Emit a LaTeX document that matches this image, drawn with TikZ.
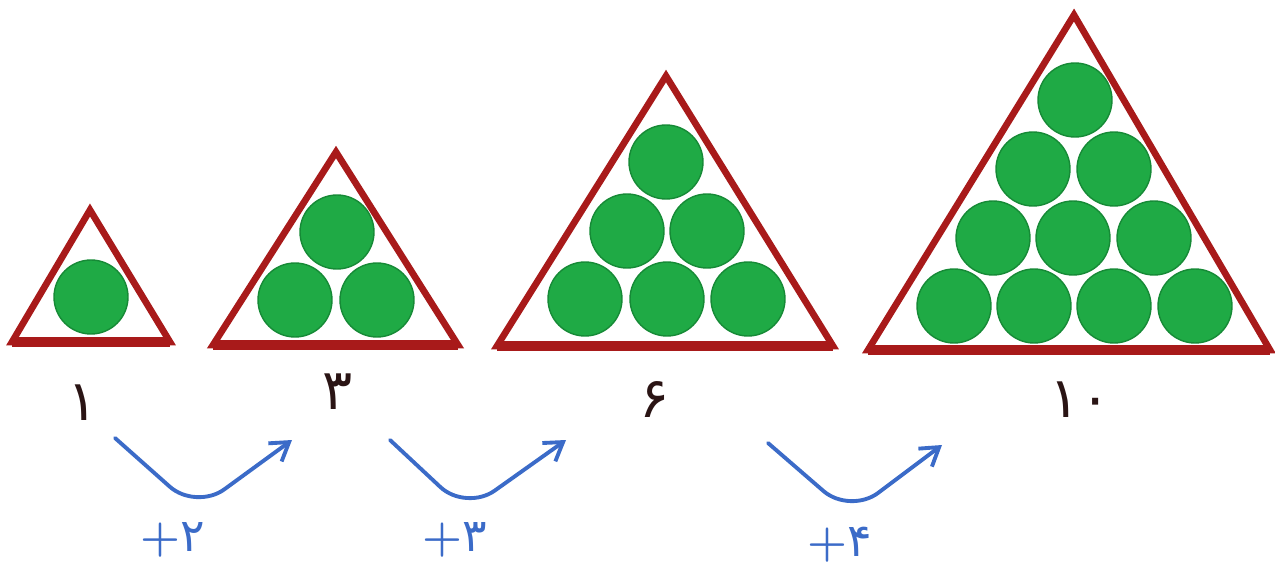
\documentclass[tikz,border=0pt]{standalone}
\usepackage{fontspec}
\usepackage{tikz}
\usetikzlibrary{arrows.meta,positioning}
\newfontfamily\fafont[Script=Arabic]{DejaVu Sans}
\definecolor{TriRed}{HTML}{A81A1A}
\definecolor{BallGreen}{HTML}{1FAA45}
\definecolor{BallEdge}{HTML}{168A36}
\definecolor{ArrowBlue}{HTML}{3B6BC8}
\definecolor{NumDark}{HTML}{2A1414}

\begin{document}
\begin{tikzpicture}[
  x=0.02cm,y=-0.02cm,
  tri/.style={draw=TriRed,line width=3.8pt,line join=miter},
  base/.style={draw=TriRed,line width=5.5pt},
  ball/.style={circle,fill=BallGreen,draw=BallEdge,line width=0.8pt,minimum size=1.48cm,inner sep=0pt},
  num/.style={font=\fafont\fontsize{32}{36}\selectfont,text=NumDark},
  jump/.style={font=\fontsize{26}{30}\selectfont\bfseries,text=ArrowBlue,inner sep=1pt},
  arrow/.style={-{Straight Barb[length=3.5mm,width=4.5mm]},line width=2.2pt,draw=ArrowBlue,rounded corners=20pt,line cap=round}
]
\useasboundingbox (0,0) rectangle (1275,571);

% triangles
\draw[tri] (12,342) -- (90,210) -- (170,342) -- cycle;
\draw[base] (12,342) -- (170,342);
\draw[tri] (213,345) -- (336,152) -- (458,345) -- cycle;
\draw[base] (213,345) -- (458,345);
\draw[tri] (497,346) -- (666,76) -- (833,346) -- cycle;
\draw[base] (497,346) -- (833,346);
\draw[tri] (868,350) -- (1074,15) -- (1270,350) -- cycle;
\draw[base] (868,350) -- (1270,350);

% balls
\node[ball] (b11) at (91,297) {};
\foreach \i/\p in {1/{(337,232)},2/{(295,300)},3/{(377,300)}}
  \node[ball] (b3\i) at \p {};
\foreach \i/\p in {1/{(666,162)},2/{(627,231)},3/{(707,231)},4/{(585,299)},5/{(667,299)},6/{(748,299)}}
  \node[ball] (b6\i) at \p {};
\foreach \i/\p in {1/{(1075,100)},2/{(1033,169)},3/{(1114,169)},4/{(993,238)},5/{(1073,238)},6/{(1154,238)},7/{(954,306)},8/{(1034,306)},9/{(1114,306)},10/{(1195,306)}}
  \node[ball] (b10\i) at \p {};

% counts
\node[num] (n1) at (83,403) {۱};
\node[num] (n3) at (338,392) {۳};
\node[num] (n6) at (655,400) {۶};
\node[num] (n10) at (1080,400) {۱۰};

% steps
\coordinate (a1s) at (115,438);
\coordinate (a1m) at (196,510);
\coordinate (a1e) at (292,440);
\coordinate (a2s) at (390,440);
\coordinate (a2m) at (466,511);
\coordinate (a2e) at (566,440);
\coordinate (a3s) at (768,443);
\coordinate (a3m) at (850,514);
\coordinate (a3e) at (942,445);
\draw[arrow] (a1s) -- (a1m) -- (a1e);
\draw[arrow] (a2s) -- (a2m) -- (a2e);
\draw[arrow] (a3s) -- (a3m) -- (a3e);
\node[jump] (p2) at (173,540) {+{\fafont\mdseries ۲}};
\node[jump] (p3) at (455,540) {+{\fafont\mdseries ۳}};
\node[jump] (p4) at (840,545) {+{\fafont\mdseries ۴}};
\end{tikzpicture}
\end{document}
